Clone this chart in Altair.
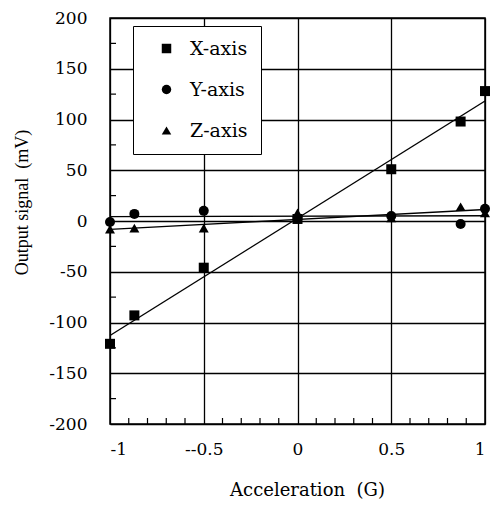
import altair as alt
import pandas as pd

# ---- data ----
accel = [-1, -0.87, -0.5, 0, 0.5, 0.87, 1]
x_axis_mv = [-121, -93, -46, 2, 51, 98, 128]
y_axis_mv = [-1, 7, 10, 3, 5, -3, 12]
z_axis_mv = [-8, -7, -7, 8, 3, 14, 8]
series_names = ["X-axis", "Y-axis", "Z-axis"]
series_shapes = ["square", "circle", "triangle-up"]

x_tick_values = [-1, -0.5, 0, 0.5, 1]
x_tick_labels = ["-1", "--0.5", "0", "0.5", "1"]
y_tick_values = [-200, -150, -100, -50, 0, 50, 100, 150, 200]
x_minor_ticks = [-0.9, -0.8, -0.7, -0.6, -0.4, -0.3, -0.2, -0.1,
                 0.1, 0.2, 0.3, 0.4, 0.6, 0.7, 0.8, 0.9]
y_minor_ticks = [-175, -125, -75, -25, 25, 75, 125, 175]

rows = []
for name, vals in zip(series_names, [x_axis_mv, y_axis_mv, z_axis_mv]):
    for a, v in zip(accel, vals):
        rows.append({"accel": a, "signal": v, "series": name})
df = pd.DataFrame(rows)

FONT = "DejaVu Serif"
FONT_NARROW = "Liberation Serif"
W, H = 375, 406

xscale = alt.Scale(domain=[-1, 1], nice=False, zero=False)
yscale = alt.Scale(domain=[-200, 200], nice=False)

x_label_expr = " : ".join(
    f"datum.value == {v} ? '{l}'" for v, l in zip(x_tick_values, x_tick_labels)
) + " : ''"

x_axis = alt.Axis(values=x_tick_values, grid=True, gridColor="black",
                  gridWidth=1.3, gridOpacity=1, ticks=False, domain=False,
                  labelExpr=x_label_expr, labelFont=FONT, labelFontSize=17,
                  labelColor="black", labelPadding=17,
                  title="Acceleration\u00a0 (G)", titleFont=FONT, titleFontSize=18,
                  titleFontWeight="normal", titleColor="black", titlePadding=24,
                  titleX=197)
y_axis = alt.Axis(values=y_tick_values, grid=True, gridColor="black",
                  gridWidth=1.3, gridOpacity=1, ticks=False, domain=False,
                  labelExpr="'' + datum.value", labelFont=FONT, labelFontSize=17,
                  labelColor="black", labelPadding=23,
                  title="Output signal\u00a0 (mV)", titleFont=FONT_NARROW,
                  titleFontSize=18, titleFontWeight="normal", titleColor="black",
                  titlePadding=17, titleY=184)

X = alt.X("accel:Q", scale=xscale, axis=x_axis)
Y = alt.Y("signal:Q", scale=yscale, axis=y_axis)

lines = alt.Chart(df).transform_regression(
    "accel", "signal", groupby=["series"], extent=[-1, 1]
).mark_line(color="black", strokeWidth=1.4).encode(
    x=X, y=Y, detail="series:N"
)

points = alt.Chart(df).mark_point(filled=True, color="black", opacity=1, size=100).encode(
    x=X, y=Y,
    shape=alt.Shape("series:N",
                    scale=alt.Scale(domain=series_names, range=series_shapes),
                    legend=alt.Legend(orient="none", legendX=23, legendY=8,
                                      title=None, fillColor="white",
                                      strokeColor="black", padding=13,
                                      rowPadding=21, labelFont=FONT,
                                      labelFontSize=19, labelColor="black",
                                      labelOffset=14, symbolSize=90,
                                      labelExpr="datum.label + '\u2003'",
                                      symbolFillColor="black",
                                      symbolStrokeColor="black",
                                      symbolOffset=11))
)

xminor = alt.Chart(pd.DataFrame({"accel": x_minor_ticks})).mark_rule(
    color="black", strokeWidth=1.2
).encode(x=X, y=alt.value(H), y2=alt.value(H - 6))

yminor = alt.Chart(pd.DataFrame({"signal": y_minor_ticks})).mark_rule(
    color="black", strokeWidth=1.2
).encode(y=Y, x=alt.value(0), x2=alt.value(6))

chart = alt.layer(lines, points, xminor, yminor).properties(
    width=W, height=H,
    autosize=alt.AutoSizeParams(type="none"),
    padding={"left": 102, "top": 10, "right": 5, "bottom": 78},
    background="white",
).configure_view(stroke="black", strokeWidth=1.5)

chart.save("out.html", embed_options={"renderer": "svg", "actions": False})
